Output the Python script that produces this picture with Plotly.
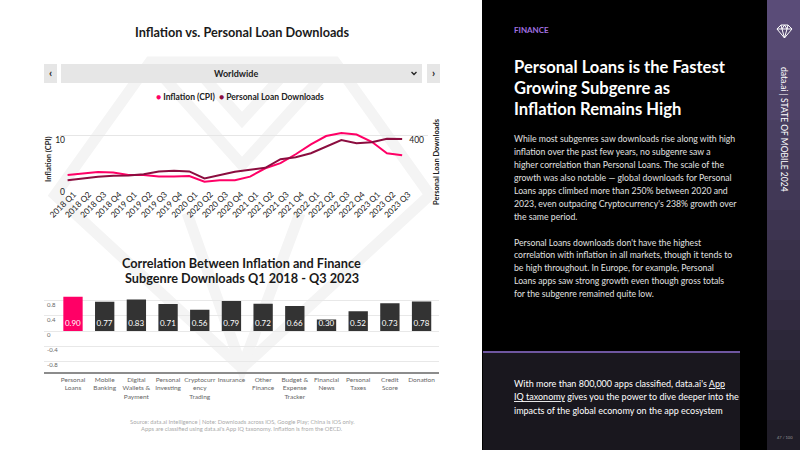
import plotly.graph_objects as go

W, H = 800, 450
FONT = "Lato"
PINK = "#FF0066"
MAROON = "#8B0D3F"
DARK = "#333333"

# ---- data ----
quarters = ["2018 Q1", "2018 Q2", "2018 Q3", "2018 Q4",
            "2019 Q1", "2019 Q2", "2019 Q3", "2019 Q4",
            "2020 Q1", "2020 Q2", "2020 Q3", "2020 Q4",
            "2021 Q1", "2021 Q2", "2021 Q3", "2021 Q4",
            "2022 Q1", "2022 Q2", "2022 Q3", "2022 Q4",
            "2023 Q1", "2023 Q2", "2023 Q3"]
inflation_cpi = [2.3, 2.6, 2.9, 2.8, 2.3, 2.3, 2.0, 2.0, 2.1, 1.0, 1.3, 1.3,
                 2.0, 3.6, 4.6, 6.3, 8.2, 9.8, 10.4, 10.1, 8.7, 6.5, 6.1]
loan_downloads = [52, 66, 79, 87, 89, 99, 120, 125, 120, 66, 94, 117,
                  132, 148, 214, 229, 260, 311, 362, 336, 344, 372, 369]

subgenres = ["Personal Loans", "Mobile Banking", "Digital Wallets & Payment",
             "Personal Investing", "Cryptocurrency Trading", "Insurance",
             "Other Finance", "Budget & Expense Tracker", "Financial News",
             "Personal Taxes", "Credit Score", "Donation"]
subgenre_labels = ["Personal<br>Loans", "Mobile<br>Banking", "Digital<br>Wallets &<br>Payment",
                   "Personal<br>Investing", "Cryptocurr<br>ency<br>Trading", "Insurance",
                   "Other<br>Finance", "Budget &<br>Expense<br>Tracker", "Financial<br>News",
                   "Personal<br>Taxes", "Credit<br>Score", "Donation"]
correlation = [0.90, 0.77, 0.83, 0.71, 0.56, 0.79, 0.72, 0.66, 0.30, 0.52, 0.73, 0.78]

cpi_ticks = [0, 10]
dl_ticks = [0, 400]
corr_ticks = [0.8, 0.4, 0, -0.4, -0.8]
corr_ticktext = ["0.8", "0.4", "0", "-0.4", "-0.8"]


def px(x):
    return x / W


def py(y):
    return 1 - y / H


def path(points, close=False):
    s = "M " + " L ".join(f"{px(x):.4f},{py(y):.4f}" for x, y in points)
    return s + (" Z" if close else "")


fig = go.Figure()

# line chart
fig.add_trace(go.Scatter(x=quarters, y=inflation_cpi, name="Inflation (CPI)",
                         mode="lines", line=dict(color=PINK, width=2),
                         xaxis="x", yaxis="y"))
fig.add_trace(go.Scatter(x=quarters, y=loan_downloads, name="Personal Loan Downloads",
                         mode="lines", line=dict(color=MAROON, width=2),
                         xaxis="x", yaxis="y2"))

# bar chart
bar_colors = [PINK if s == "Personal Loans" else DARK for s in subgenres]
fig.add_trace(go.Bar(x=subgenres, y=correlation, marker=dict(color=bar_colors, line_width=0),
                     width=0.61, text=[f"{v:.2f}" for v in correlation],
                     textposition="inside", insidetextanchor="start", textangle=0,
                     constraintext="none",
                     textfont=dict(size=8, color="white", family=FONT),
                     xaxis="x2", yaxis="y3", hoverinfo="x+y"))

shapes = []

# watermark
wm = dict(type="path", xref="paper", yref="paper", layer="below",
          line=dict(color="#F4F4F4", width=11))
shapes.append(dict(wm, path=path([(55, 195), (150, 62), (335, 62), (430, 195), (242, 368)], close=True)))
shapes.append(dict(wm, path=path([(150, 62), (242, 165), (335, 62)])))
shapes.append(dict(wm, path=path([(190, 62), (242, 120), (295, 62)])))
shapes.append(dict(wm, path=path([(187, 213), (242, 368), (300, 213)])))

# dropdown
btn = dict(type="rect", xref="paper", yref="paper", fillcolor="#E6E6E6", line_width=0)
shapes.append(dict(btn, x0=px(44), x1=px(57), y0=py(83), y1=py(64)))
shapes.append(dict(btn, x0=px(61), x1=px(422), y0=py(83), y1=py(64)))
shapes.append(dict(btn, x0=px(427), x1=px(440), y0=py(83), y1=py(64)))
shapes.append(dict(type="path", xref="paper", yref="paper",
                   path=path([(411.5, 72), (414, 74.5), (416.5, 72)]),
                   line=dict(color="#222", width=1.3)))

# right panel
shapes.append(dict(type="rect", xref="paper", yref="paper", x0=px(482), x1=px(767),
                   y0=0, y1=1, fillcolor="#000000", line_width=0))
shapes.append(dict(type="rect", xref="paper", yref="paper", x0=px(483), x1=px(740),
                   y0=0, y1=py(352), fillcolor="#19171E", line_width=0))
shapes.append(dict(type="line", xref="paper", yref="paper", x0=px(483), x1=px(740),
                   y0=py(352), y1=py(352), line=dict(color="#6E56A0", width=2)))

# sidebar gradient
n = 15
top, bot = (90, 76, 120), (32, 29, 40)
for i in range(n):
    t = i / (n - 1)
    c = tuple(round(a + (b - a) * t) for a, b in zip(top, bot))
    shapes.append(dict(type="rect", xref="paper", yref="paper", x0=px(767), x1=1,
                       y0=py(H * (i + 1) / n), y1=py(H * i / n),
                       fillcolor=f"rgb{c}", line_width=0))
# diamond icon
icon = dict(type="path", xref="paper", yref="paper", line=dict(color="white", width=1))
shapes.append(dict(icon, path=path([(777, 29), (781, 25), (788, 25), (792, 29), (784.5, 38)], close=True)))
shapes.append(dict(icon, path=path([(777, 29), (792, 29)])))
shapes.append(dict(icon, path=path([(781, 25), (782, 29), (784.5, 38), (787, 29), (788, 25)])))
shapes.append(dict(icon, path=path([(782, 29), (784.5, 25), (787, 29)])))

annotations = []


def note(text, x, y, size, color="#222", xanchor="left", bold=False, angle=0, family=FONT):
    if bold:
        text = f"<b>{text}</b>"
    annotations.append(dict(text=text, x=px(x), y=py(y), xref="paper", yref="paper",
                            xanchor=xanchor, yanchor="middle", showarrow=False,
                            textangle=angle, font=dict(size=size, color=color, family=family)))


note("Inflation vs. Personal Loan Downloads", 242, 32, 12.7, "#1a1a1a", "center", True)
note("Worldwide", 236, 73, 9, "#222", "center", True)
note("‹", 50.5, 72.5, 11, "#222", "center", True)
note("›", 433.5, 72.5, 11, "#222", "center", True)
note(f"<span style='color:{PINK}'>●</span> Inflation (CPI)  "
     f"<span style='color:{MAROON}'>●</span> Personal Loan Downloads",
     240, 97, 8.5, "#222", "center", True)
note("Inflation (CPI)", 49, 159, 7.5, "#222", "center", True, -90)
note("Personal Loan Downloads", 436, 162, 7.5, "#222", "center", True, -90)
note("Correlation Between Inflation and Finance", 241, 263, 12.7, "#1a1a1a", "center", True)
note("Subgenre Downloads Q1 2018 - Q3 2023", 242, 278, 12.7, "#1a1a1a", "center", True)
note("Source: data.ai Intelligence | Note: Downloads across iOS, Google Play; China is iOS only.",
     242, 421, 5.8, "#AAAAAA", "center")
note("Apps are classified using data.ai's App IQ taxonomy. Inflation is from the OECD.",
     242, 428, 5.8, "#AAAAAA", "center")

note("FINANCE", 512, 30, 8, "#A070E0", bold=True)
for i, line in enumerate(["Personal Loans is the Fastest", "Growing Subgenre as",
                          "Inflation Remains High"]):
    note(line, 512, 67 + 21 * i, 16.6, "white", bold=True)

para1 = ["While most subgenres saw downloads rise along with high",
         "inflation over the past few years, no subgenre saw a",
         "higher correlation than Personal Loans. The scale of the",
         "growth was also notable — global downloads for Personal",
         "Loans apps climbed more than 250% between 2020 and",
         "2023, even outpacing Cryptocurrency's 238% growth over",
         "the same period."]
para2 = ["Personal Loans downloads don't have the highest",
         "correlation with inflation in all markets, though it tends to",
         "be high throughout. In Europe, for example, Personal",
         "Loans apps saw strong growth even though gross totals",
         "for the subgenre remained quite low."]
for i, line in enumerate(para1):
    note(line, 512, 138 + 13 * i, 8.7, "#E0E0E0")
for i, line in enumerate(para2):
    note(line, 512, 242 + 12.8 * i, 8.7, "#E0E0E0")

box = ["With more than 800,000 apps classified, data.ai's <u>App</u>",
       "<u>IQ taxonomy</u> gives you the power to dive deeper into the",
       "impacts of the global economy on the app ecosystem"]
for i, line in enumerate(box):
    note(line, 512, 383 + 13.5 * i, 9, "white")

note("data.ai | STATE OF MOBILE 2024", 784, 129, 8.5, "white", "center", angle=90)
note("47 / 100", 785, 437, 4, "#999999", "center")

fig.update_layout(
    width=W, height=H, autosize=False,
    margin=dict(l=0, r=0, t=0, b=0, autoexpand=False),
    paper_bgcolor="white", plot_bgcolor="rgba(0,0,0,0)",
    showlegend=False,
    font=dict(family=FONT, color="#222"),
    uniformtext=dict(minsize=8, mode="show"),
    xaxis=dict(domain=[px(60), px(428)], anchor="y", type="category", range=[-0.5, 23.7],
               tickmode="array", tickvals=quarters, automargin=False,
               tickangle=-45, tickfont=dict(size=8.3, color="#222", family=FONT),
               ticklabelshift=6, ticklabelstandoff=0, ticklabeloverflow="allow",
               showgrid=False, showline=False, ticks="", fixedrange=True),
    yaxis=dict(domain=[py(187), py(128.8)], anchor="x", range=[0, 11.2], automargin=False,
               tickvals=cpi_ticks, gridcolor="#E6E6E6", gridwidth=1, zeroline=False,
               tickfont=dict(size=8.5, color="#222"), ticklabelshift=5,
               ticklabelstandoff=-6, showline=False),
    yaxis2=dict(overlaying="y", side="right", anchor="x", range=[0, 448], automargin=False,
                tickvals=dl_ticks, showgrid=False, zeroline=False,
                ticklabelposition="inside", ticklabelshift=5, ticklabelstandoff=1,
                tickfont=dict(size=8.5, color="#222")),
    xaxis2=dict(domain=[px(44), px(439)], anchor="y3", type="category", automargin=False,
                range=[-0.915, 11.55], tickvals=subgenres, ticktext=subgenre_labels,
                tickangle=0, tickfont=dict(size=6.5, color="#666"),
                showline=True, linecolor="#8C8C8C", linewidth=2, ticks="",
                showgrid=False),
    yaxis3=dict(domain=[py(372), py(293.8)], anchor="x2", range=[-1.08, 0.98], automargin=False,
                tickvals=corr_ticks, ticktext=corr_ticktext, gridcolor="#E8E8E8",
                zeroline=False, ticklabelposition="inside", ticklabelshift=4,
                tickfont=dict(size=6, color="#666")),
    shapes=shapes,
    annotations=annotations,
)

fig.write_html("out.html", config={"displayModeBar": False},
               post_script="document.body.style.margin='0';")
